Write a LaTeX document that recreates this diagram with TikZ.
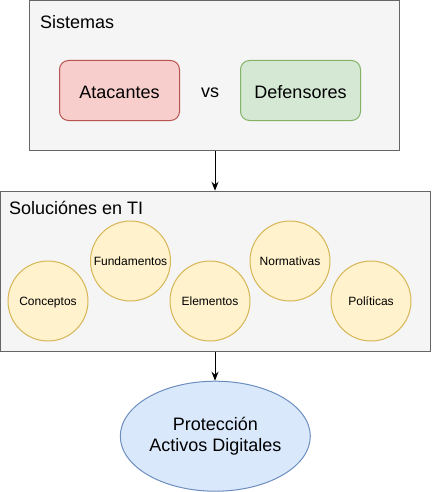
\documentclass[tikz,border=0pt]{standalone}
\usepackage{fontspec}
\setmainfont{Liberation Sans}
\usetikzlibrary{arrows.meta,shapes.geometric}
\definecolor{grpfill}{HTML}{F5F5F5}
\definecolor{grpdraw}{HTML}{666666}
\definecolor{redfill}{HTML}{F8CECC}
\definecolor{reddraw}{HTML}{B85450}
\definecolor{grnfill}{HTML}{D5E8D4}
\definecolor{grndraw}{HTML}{82B366}
\definecolor{yelfill}{HTML}{FFF2CC}
\definecolor{yeldraw}{HTML}{D6B656}
\definecolor{blufill}{HTML}{DAE8FC}
\definecolor{bludraw}{HTML}{6C8EBF}
\tikzset{
  group/.style={draw=grpdraw, fill=grpfill, line width=1pt, rectangle, inner sep=0pt},
  bigtext/.style={font=\fontsize{18}{21}\selectfont},
  smalltext/.style={font=\fontsize{12}{14}\selectfont},
  actor/.style={rectangle, rounded corners=9pt, line width=1pt, minimum width=120pt, minimum height=60pt, inner sep=0pt, bigtext, text height=12.9pt, text depth=0pt},
  topic/.style={circle, draw=yeldraw, fill=yelfill, line width=1pt, minimum size=80pt, inner sep=0pt, smalltext, text height=8.6pt, text depth=0pt},
  conn/.style={-{Stealth[length=9pt,width=7pt]}, line width=1pt, black}
}
\begin{document}
\begin{tikzpicture}[x=1pt,y=-1pt]
\useasboundingbox (0,0) rectangle (431,492);
% Sistemas group
\node[group, minimum width=370pt, minimum height=150pt] (sis) at (214.5,75.5) {};
\node[bigtext, anchor=base west, inner sep=0pt] (sistitle) at (40,28.5) {Sistemas};
\node[actor, draw=reddraw, fill=redfill] (ata) at (119.5,90.5) {\raisebox{-1.2pt}{Atacantes}};
\node[bigtext, inner sep=0pt, text height=12.9pt, text depth=0pt] (vs) at (210,91.5) {vs};
\node[actor, draw=grndraw, fill=grnfill] (def) at (300.5,90.5) {\raisebox{-1.2pt}{Defensores}};
% Soluciones group
\node[group, minimum width=429.5pt, minimum height=160pt] (sol) at (215.25,271.25) {};
\node[bigtext, anchor=base west, inner sep=0pt] (soltitle) at (9,214) {Soluciónes en TI};
\node[topic] (con) at (48,301) {Conceptos};
\node[topic] (fun) at (130.5,261) {Fundamentos};
\node[topic] (ele) at (210,301) {Elementos};
\node[topic] (nor) at (290,261) {Normativas};
\node[topic] (pol) at (371,301) {Políticas};
% Protection
\node[ellipse, draw=bludraw, fill=blufill, line width=1pt, minimum width=190pt, minimum height=110pt, inner sep=0pt, bigtext, align=center] (pro) at (215.3,436.2) {Protección\\Activos Digitales};
% connectors
\draw[conn] (sis.south -| 215,0) -- (sol.north -| 215,0);
\draw[conn] (sol.south -| 215,0) -- (pro.north -| 215,0);
\end{tikzpicture}
\end{document}
